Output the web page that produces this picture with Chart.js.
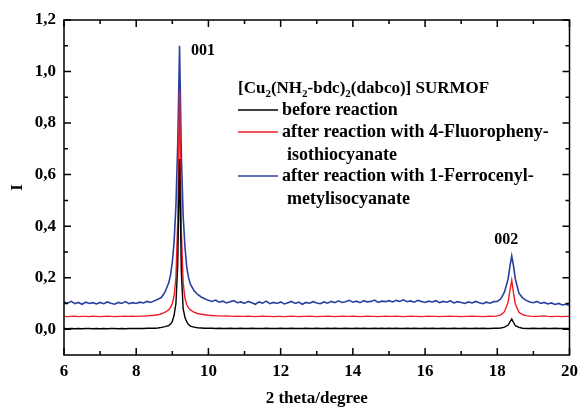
<!DOCTYPE html>
<html><head><meta charset="utf-8">
<script src="https://cdn.jsdelivr.net/npm/chart.js@4/dist/chart.umd.min.js"></script>
<style>html,body{margin:0;padding:0;background:#fff}</style></head>
<body>
<canvas id="c" width="584" height="408"></canvas>
<script>
const twoTheta=[6.0,6.1,6.2,6.3,6.4,6.5,6.6,6.7,6.8,6.9,
7.0,7.1,7.2,7.3,7.4,7.5,7.6,7.7,7.8,7.9,
8.0,8.1,8.2,8.3,8.4,8.5,8.6,8.7,8.8,8.9,8.95,
9.0,9.05,9.1,9.15,9.2,9.25,9.3,9.35,9.4,9.45,9.5,9.6,9.7,9.8,9.9,
10.0,10.1,10.2,10.3,10.4,10.5,10.6,10.7,10.8,10.9,
11.0,11.1,11.2,11.3,11.4,11.5,11.6,11.7,11.8,11.9,
12.0,12.1,12.2,12.3,12.4,12.5,12.6,12.7,12.8,12.9,
13.0,13.1,13.2,13.3,13.4,13.5,13.6,13.7,13.8,13.9,
14.0,14.1,14.2,14.3,14.4,14.5,14.6,14.7,14.8,14.9,
15.0,15.1,15.2,15.3,15.4,15.5,15.6,15.7,15.8,15.9,
16.0,16.1,16.2,16.3,16.4,16.5,16.6,16.7,16.8,16.9,
17.0,17.1,17.2,17.3,17.4,17.5,17.6,17.7,17.8,17.9,
18.0,18.1,18.2,18.3,18.35,18.4,18.45,18.5,18.6,18.7,18.8,18.9,
19.0,19.1,19.2,19.3,19.4,19.5,19.6,19.7,19.8,19.9,
20.0];
const beforeReaction=[0.003,0.002,0.003,0.002,0.003,0.002,0.003,0.003,0.002,0.003,
0.002,0.003,0.002,0.003,0.003,0.002,0.003,0.002,0.003,0.003,
0.003,0.003,0.003,0.004,0.004,0.004,0.005,0.007,0.010,0.014,0.020,
0.030,0.055,0.100,0.250,0.660,0.220,0.080,0.045,0.028,0.018,0.012,0.008,0.006,0.005,0.004,
0.004,0.004,0.003,0.004,0.003,0.003,0.004,0.003,0.003,0.004,
0.003,0.003,0.004,0.003,0.003,0.003,0.004,0.003,0.003,0.003,
0.004,0.003,0.003,0.004,0.003,0.003,0.003,0.004,0.003,0.003,
0.004,0.003,0.003,0.004,0.003,0.004,0.003,0.003,0.004,0.003,
0.003,0.004,0.003,0.004,0.003,0.003,0.004,0.003,0.004,0.003,
0.004,0.003,0.004,0.003,0.003,0.004,0.003,0.004,0.003,0.003,
0.004,0.003,0.004,0.003,0.003,0.004,0.003,0.003,0.004,0.003,
0.003,0.004,0.003,0.003,0.004,0.003,0.004,0.003,0.003,0.004,
0.004,0.005,0.008,0.016,0.028,0.040,0.026,0.014,0.007,0.004,0.003,0.003,
0.004,0.003,0.003,0.004,0.003,0.003,0.004,0.003,0.003,0.003,
0.003];
const afterFluoro=[0.050,0.049,0.050,0.051,0.049,0.050,0.050,0.049,0.051,0.050,
0.049,0.050,0.051,0.050,0.049,0.050,0.050,0.051,0.050,0.051,
0.050,0.051,0.051,0.052,0.053,0.054,0.056,0.060,0.066,0.075,0.085,
0.100,0.130,0.200,0.420,0.930,0.380,0.180,0.120,0.095,0.083,0.075,0.066,0.061,0.058,0.056,
0.054,0.053,0.052,0.052,0.051,0.052,0.051,0.050,0.051,0.050,
0.050,0.051,0.050,0.049,0.050,0.051,0.050,0.050,0.049,0.050,
0.050,0.049,0.050,0.051,0.050,0.049,0.050,0.050,0.051,0.050,
0.049,0.050,0.050,0.051,0.050,0.049,0.050,0.051,0.050,0.050,
0.051,0.050,0.049,0.050,0.051,0.050,0.050,0.049,0.050,0.051,
0.050,0.050,0.051,0.050,0.049,0.050,0.051,0.050,0.050,0.049,
0.050,0.051,0.050,0.050,0.049,0.050,0.050,0.051,0.050,0.050,
0.049,0.050,0.050,0.051,0.050,0.050,0.049,0.050,0.051,0.050,
0.052,0.056,0.068,0.105,0.150,0.190,0.140,0.098,0.066,0.057,0.053,0.051,
0.050,0.050,0.051,0.052,0.050,0.049,0.050,0.050,0.049,0.050,
0.050];
const afterFerro=[0.106,0.101,0.108,0.099,0.104,0.097,0.105,0.100,0.103,0.098,
0.104,0.099,0.106,0.101,0.097,0.104,0.100,0.107,0.099,0.103,
0.100,0.105,0.102,0.108,0.104,0.110,0.116,0.124,0.145,0.180,0.210,
0.260,0.340,0.480,0.720,1.100,0.680,0.440,0.320,0.240,0.200,0.175,0.150,0.135,0.125,0.118,
0.112,0.108,0.113,0.105,0.109,0.102,0.107,0.111,0.103,0.106,
0.100,0.108,0.103,0.097,0.106,0.101,0.109,0.099,0.104,0.100,
0.106,0.098,0.103,0.108,0.100,0.105,0.097,0.104,0.101,0.107,
0.102,0.099,0.106,0.101,0.108,0.103,0.110,0.104,0.107,0.112,
0.105,0.109,0.103,0.111,0.106,0.108,0.113,0.104,0.109,0.107,
0.111,0.106,0.112,0.108,0.114,0.107,0.110,0.105,0.112,0.108,
0.104,0.109,0.106,0.111,0.103,0.108,0.105,0.110,0.102,0.107,
0.104,0.100,0.106,0.102,0.108,0.103,0.099,0.105,0.101,0.107,
0.108,0.118,0.145,0.195,0.245,0.285,0.245,0.195,0.140,0.122,0.112,0.106,
0.103,0.108,0.100,0.104,0.098,0.102,0.096,0.100,0.094,0.097,
0.093];
const xTicks=[6,8,10,12,14,16,18,20];
const xMinorTicks=[7,9,11,13,15,17,19];
const yTicks=[0,0.2,0.4,0.6,0.8,1.0,1.2];
const yMinorTicks=[0.1,0.3,0.5,0.7,0.9,1.1];
const seriesLabels=[["before reaction"],["after reaction with 4-Fluoropheny-","isothiocyanate"],["after reaction with 1-Ferrocenyl-","metylisocyanate"]];
const legendTitleParts=[["[Cu",false],["2",true],["(NH",false],["2",true],["-bdc)",false],["2",true],["(dabco)] SURMOF",false]];
const peakNames=["001","002"];
const peakPositions=[[9.85,1.08],[18.25,0.345]];

const FONT='"Liberation Serif","DejaVu Serif",serif';
const colors=['#000000','#ee1c24','#2b3f9e'];
const toXY=vals=>vals.map((v,i)=>({x:twoTheta[i],y:v}));

const decor={id:'decor',afterDraw(chart){
  const {ctx,chartArea:a,scales:{x,y}}=chart;
  ctx.save();
  ctx.strokeStyle='#000';ctx.lineWidth=1.5;
  ctx.strokeRect(a.left,a.top,a.right-a.left,a.bottom-a.top);
  ctx.beginPath();
  const vt=(vals,len)=>vals.forEach(v=>{const p=x.getPixelForValue(v);ctx.moveTo(p,a.bottom);ctx.lineTo(p,a.bottom-len);ctx.moveTo(p,a.top);ctx.lineTo(p,a.top+len);});
  const ht=(vals,len)=>vals.forEach(v=>{const p=y.getPixelForValue(v);ctx.moveTo(a.left,p);ctx.lineTo(a.left+len,p);ctx.moveTo(a.right,p);ctx.lineTo(a.right-len,p);});
  vt(xTicks,7);vt(xMinorTicks,4);ht(yTicks,7);ht(yMinorTicks,4);
  ctx.stroke();
  ctx.fillStyle='#000';
  ctx.font='bold 16px '+FONT;ctx.textAlign='center';ctx.textBaseline='middle';
  peakNames.forEach((n,i)=>ctx.fillText(n,x.getPixelForValue(peakPositions[i][0]),y.getPixelForValue(peakPositions[i][1])));
  ctx.textAlign='left';ctx.textBaseline='alphabetic';
  let tx=238;const ty=93;
  legendTitleParts.forEach(([t,sub])=>{
    ctx.font=sub?'bold 11px '+FONT:'bold 17px '+FONT;
    ctx.fillText(t,tx,sub?ty+4:ty);tx+=ctx.measureText(t).width;
  });
  ctx.font='bold 18px '+FONT;
  const rows=[110,132,176];
  seriesLabels.forEach((lines,i)=>{
    const yy=rows[i];
    ctx.strokeStyle=colors[i];ctx.lineWidth=1.5;
    ctx.beginPath();ctx.moveTo(238,yy);ctx.lineTo(278,yy);ctx.stroke();
    ctx.textBaseline='middle';
    ctx.fillText(lines[0],282,yy);
    if(lines[1])ctx.fillText(lines[1],287,yy+23);
  });
  ctx.restore();
}};

new Chart(document.getElementById('c'),{
  type:'line',
  data:{datasets:[
    {label:seriesLabels[2].join(' '),data:toXY(afterFerro),borderColor:colors[2],borderWidth:1.6,order:3},
    {label:seriesLabels[1].join(' '),data:toXY(afterFluoro),borderColor:colors[1],order:2},
    {label:seriesLabels[0].join(' '),data:toXY(beforeReaction),borderColor:colors[0],order:1}
  ]},
  options:{
    responsive:false,animation:false,
    layout:{padding:{top:20,right:10,left:0,bottom:0}},
    elements:{point:{radius:0},line:{borderWidth:1.4,tension:0}},
    plugins:{legend:{display:false},tooltip:{enabled:false}},
    scales:{
      x:{type:'linear',min:6,max:20,
        afterBuildTicks:s=>{s.ticks=xTicks.map(v=>({value:v}));},
        afterFit:s=>{s.height=53;},
        grid:{display:false,drawTicks:false},border:{display:false},
        ticks:{padding:6,color:'#000',font:{family:FONT,size:17,weight:'bold'},maxRotation:0,callback:v=>String(v)},
        title:{display:true,text:'2 theta/degree',color:'#000',font:{family:FONT,size:17,weight:'bold',lineHeight:1},padding:{top:0,bottom:1}}
      },
      y:{type:'linear',min:-0.1,max:1.2,
        afterBuildTicks:s=>{s.ticks=yTicks.map(v=>({value:v}));},
        afterFit:s=>{s.width=64;},
        grid:{display:false,drawTicks:false},border:{display:false},
        ticks:{padding:8,color:'#000',font:{family:FONT,size:17,weight:'bold'},callback:v=>v.toFixed(1).replace('.',',')},
        title:{display:true,text:'I',color:'#000',font:{family:FONT,size:17,weight:'bold'},padding:{top:7,bottom:6}}
      }
    }
  },
  plugins:[decor]
});
</script>
</body></html>
